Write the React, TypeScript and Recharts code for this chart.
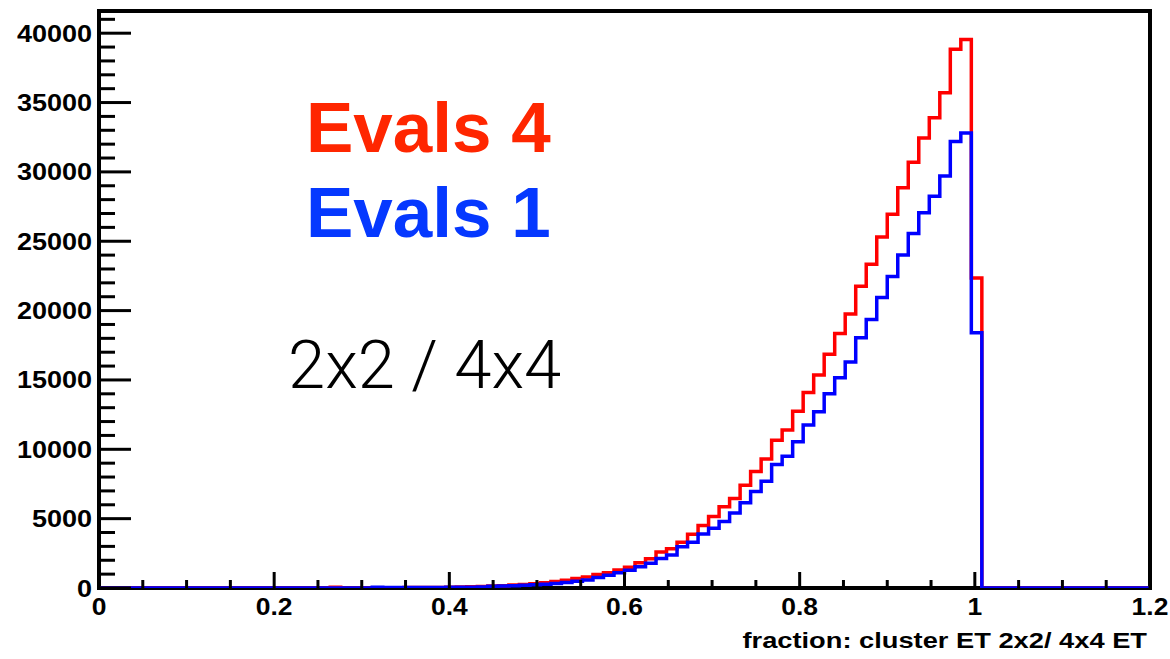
import { LineChart, Line, XAxis, YAxis, ReferenceArea } from 'recharts';

// histogram: 100 bins of width 0.012 from 0 to 1.2
const BIN_WIDTH = 0.012;
const X_MAX = 1.2;
const Y_MAX = 41600;

// counts per bin
const evals4 = [
    0, 0, 0, 0, 0, 0, 0, 0, 0, 0,
    0, 0, 0, 0, 0, 0, 0, 0, 0, 0,
    0, 0, 60, 0, 0, 0, 0, 0, 20, 30,
    30, 40, 40, 50, 70, 90, 110, 140, 170, 210,
    250, 300, 380, 460, 560, 680, 800, 980, 1100, 1300,
    1500, 1820, 2100, 2600, 2830, 3300, 3880, 4500, 5150, 5850,
    6450, 7400, 8400, 9300, 10650, 11400, 12750, 14100, 15350, 16850,
    18350, 19750, 21750, 23350, 25300, 26950, 28850, 30700, 32450, 33900,
    35700, 38850, 39550, 22350, 0, 0, 0, 0, 0, 0,
    0, 0, 0, 0, 0, 0, 0, 0, 0, 0,
];

const evals1 = [
    0, 0, 0, 0, 0, 0, 0, 0, 0, 0,
    0, 0, 0, 0, 0, 0, 0, 0, 0, 0,
    0, 0, 0, 0, 0, 0, 50, 30, 30, 30,
    40, 40, 40, 50, 50, 60, 80, 120, 150, 170,
    200, 230, 270, 330, 400, 480, 580, 750, 920, 1100,
    1280, 1540, 1780, 2130, 2380, 2970, 3300, 3900, 4300, 4800,
    5400, 6150, 6950, 7700, 8900, 9500, 10550, 11750, 12700, 14000,
    15150, 16300, 18050, 19350, 20950, 22450, 24000, 25550, 27050, 28250,
    29700, 32200, 32800, 18400, 0, 0, 0, 0, 0, 0,
    0, 0, 0, 0, 0, 0, 0, 0, 0, 0,
];

const xTicks = [
    0, 0.05, 0.1, 0.15, 0.2, 0.25, 0.3, 0.35, 0.4, 0.45, 0.5, 0.55, 0.6,
    0.65, 0.7, 0.75, 0.8, 0.85, 0.9, 0.95, 1, 1.05, 1.1, 1.15, 1.2,
];
const xLabels = [0, 0.2, 0.4, 0.6, 0.8, 1, 1.2];

const yTicks = [
    0, 1000, 2000, 3000, 4000, 5000, 6000, 7000, 8000, 9000,
    10000, 11000, 12000, 13000, 14000, 15000, 16000, 17000, 18000, 19000,
    20000, 21000, 22000, 23000, 24000, 25000, 26000, 27000, 28000, 29000,
    30000, 31000, 32000, 33000, 34000, 35000, 36000, 37000, 38000, 39000,
    40000, 41000,
];
const yLabels = [0, 5000, 10000, 15000, 20000, 25000, 30000, 35000, 40000];

const FONT = "'Liberation Sans', Arial, Helvetica, sans-serif";

// stepAfter needs a point at every bin's left edge plus the closing edge
const data = evals4.map((v, i) => ({
    x: Number((i * BIN_WIDTH).toFixed(3)),
    evals4: v,
    evals1: evals1[i],
}));
data.push({ x: X_MAX, evals4: 0, evals1: 0 });

// bold Helvetica in the original is a bit wide, so stretch it horizontally
// eslint-disable-next-line @typescript-eslint/no-explicit-any
function WideText({ x, y, anchor, size, sx, children }: any) {
    return (
        <text transform={`translate(${x},${y}) scale(${sx},1)`} textAnchor={anchor}
            fontFamily={FONT} fontWeight={700} fontSize={size} fill="#000" stroke="none">
            {children}
        </text>
    );
}

// ROOT style: ticks point into the frame
// eslint-disable-next-line @typescript-eslint/no-explicit-any
function YTick({ x, y, payload }: any) {
    const major = yLabels.includes(payload.value);
    return (
        <g>
            <line x1={x} x2={x + (major ? 32 : 16)} y1={y} y2={y} stroke="#000" strokeWidth={3} />
            {major && <WideText x={x - 7} y={y + 8.5} anchor="end" size={23.5} sx={1.15}>{payload.value}</WideText>}
        </g>
    );
}

// eslint-disable-next-line @typescript-eslint/no-explicit-any
function XTick({ x, y, payload }: any) {
    const major = xLabels.some(v => Math.abs(v - payload.value) < 1e-6);
    return (
        <g>
            <line x1={x} x2={x} y1={y} y2={y - (major ? 16 : 8)} stroke="#000" strokeWidth={3} />
            {major && <WideText x={x} y={y + 27} anchor="middle" size={23} sx={1.15}>{payload.value}</WideText>}
        </g>
    );
}

// the pad frame, drawn from the area Recharts gives for the full domain
// eslint-disable-next-line @typescript-eslint/no-explicit-any
function Frame({ x, y, width, height }: any) {
    return <rect x={x} y={y} width={width} height={height} fill="none" stroke="#000" strokeWidth={4} />;
}

export default function App() {
    return (
        <div style={{ position: 'absolute', left: 0, top: 0, width: 1170, height: 659, background: '#fff' }}>
            <LineChart width={1170} height={659} data={data} margin={{ top: 11, right: 20, bottom: 0, left: 9 }}>
                <XAxis
                    dataKey="x"
                    type="number"
                    domain={[0, X_MAX]}
                    ticks={xTicks}
                    interval={0}
                    height={71}
                    tickSize={0}
                    tickMargin={0}
                    tickLine={false}
                    axisLine={false}
                    tick={<XTick />}
                />
                <YAxis
                    type="number"
                    domain={[0, Y_MAX]}
                    allowDataOverflow
                    ticks={yTicks}
                    interval={0}
                    width={90}
                    tickSize={0}
                    tickMargin={0}
                    tickLine={false}
                    axisLine={false}
                    tick={<YTick />}
                />
                <ReferenceArea x1={0} x2={X_MAX} y1={0} y2={Y_MAX} ifOverflow="visible" shape={<Frame />} />
                <Line
                    type="stepAfter"
                    dataKey="evals4"
                    stroke="#FF0000"
                    strokeWidth={3.5}
                    dot={false}
                    activeDot={false}
                    isAnimationActive={false}
                    zIndex={600}
                />
                <Line
                    type="stepAfter"
                    dataKey="evals1"
                    stroke="#0000FF"
                    strokeWidth={3.5}
                    dot={false}
                    activeDot={false}
                    isAnimationActive={false}
                    zIndex={601}
                />
            </LineChart>
            <svg width={1170} height={659} style={{ position: 'absolute', left: 0, top: 0, pointerEvents: 'none' }}>
                <text x={306} y={152} fontFamily={FONT} fontWeight={700} fontSize={71} fill="#FF2600">Evals 4</text>
                <text x={306} y={237} fontFamily={FONT} fontWeight={700} fontSize={71} fill="#0538FF">Evals 1</text>
                <text x={288} y={388} fontFamily="Roboto, Lato, 'Open Sans', sans-serif" fontWeight={300}
                    fontSize={67} fill="#000">2x2 / 4x4</text>
                <WideText x={1147} y={648} anchor="end" size={22} sx={1.24}>fraction: cluster ET 2x2/ 4x4 ET</WideText>
            </svg>
        </div>
    );
}
